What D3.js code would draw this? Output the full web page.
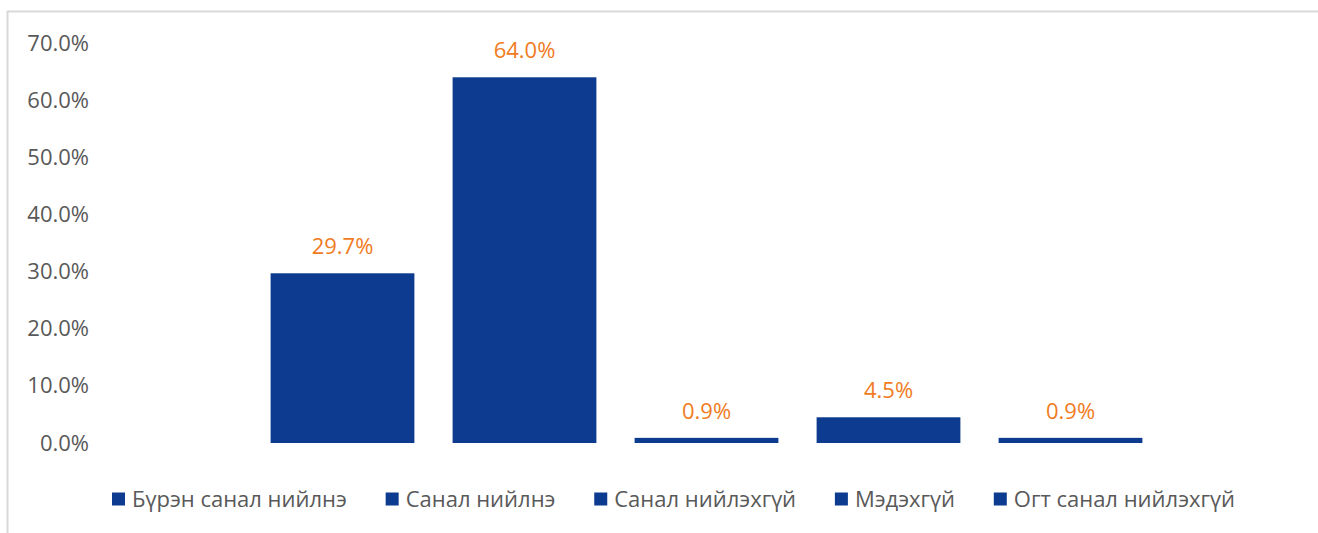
<!DOCTYPE html>
<html>
<head>
<meta charset="utf-8">
<script src="https://cdnjs.cloudflare.com/ajax/libs/d3/7.8.5/d3.min.js"></script>
<style>
  body { margin: 0; background: #fff; }
  svg { display: block; font-family: "Open Sans", "Noto Sans", sans-serif; }
</style>
</head>
<body>
<svg id="chart" width="1318" height="533"></svg>
<script>
// data
var seriesNames = ["Бүрэн санал нийлнэ", "Санал нийлнэ", "Санал нийлэхгүй", "Мэдэхгүй", "Огт санал нийлэхгүй"];
var seriesValues = [0.297, 0.640, 0.009, 0.045, 0.009];
var yTicks = [0, 0.1, 0.2, 0.3, 0.4, 0.5, 0.6, 0.7];

var barColor = "#0d3b8f",
	labelColor = "#f07b22",
	textColor = "#595959";

var svg = d3.select("#chart");

// outer frame (only top and left visible)
svg.append("path")
	.attr("d", "M7.5,533 V11.5 H1318")
	.attr("fill", "none")
	.attr("stroke", "#d9d9d9")
	.attr("stroke-width", 2);

var y = d3.scaleLinear().domain([0, 0.7]).range([443, 43]);

var x = d3.scaleBand()
	.domain(seriesNames)
	.range([251.5, 1161.5])
	.paddingInner(0.21)
	.paddingOuter(0.105);

// y axis (labels only)
var yAxis = d3.axisLeft(y)
	.tickValues(yTicks)
	.tickFormat(d3.format(".1%"))
	.tickSize(0)
	.tickPadding(0);

var gy = svg.append("g")
	.attr("transform", "translate(89,0)")
	.call(yAxis);
gy.select(".domain").remove();
gy.selectAll("text")
	.attr("fill", textColor)
	.style("font-size", "22px")
	.style("font-family", "'Open Sans', sans-serif");

// bars
svg.append("g").selectAll("rect")
	.data(seriesValues)
	.join("rect")
	.attr("x", function(d, i){ return x(seriesNames[i]); })
	.attr("y", function(d){ return y(d); })
	.attr("width", x.bandwidth())
	.attr("height", function(d){ return y(0) - y(d); })
	.attr("fill", barColor);

// data labels
svg.append("g").selectAll("text")
	.data(seriesValues)
	.join("text")
	.attr("x", function(d, i){ return x(seriesNames[i]) + x.bandwidth()/2; })
	.attr("y", function(d){ return y(d) - 19; })
	.attr("text-anchor", "middle")
	.attr("fill", labelColor)
	.style("font-size", "22px")
	.style("font-weight", 500)
	.text(function(d){ return d3.format(".1%")(d); });

// legend
var legendLeft = 112, legendRight = 1235, sq = 13, sqGap = 7;
var legend = svg.append("g");
var items = legend.selectAll("g")
	.data(seriesNames)
	.join("g");
items.append("rect")
	.attr("width", sq)
	.attr("height", sq)
	.attr("y", 499 - sq/2)
	.attr("fill", barColor);
items.append("text")
	.attr("x", sq + sqGap)
	.attr("y", 499)
	.attr("dy", "0.35em")
	.attr("fill", textColor)
	.style("font-size", "22px")
	.text(function(d){ return d; });

var widths = [];
items.each(function(){
	widths.push(sq + sqGap + this.querySelector("text").getComputedTextLength());
});
var gap = (legendRight - legendLeft - d3.sum(widths)) / (widths.length - 1);
var cx = legendLeft;
items.attr("transform", function(d, i){
	var t = "translate(" + cx + ",0)";
	cx += widths[i] + gap;
	return t;
});
</script>
</body>
</html>
